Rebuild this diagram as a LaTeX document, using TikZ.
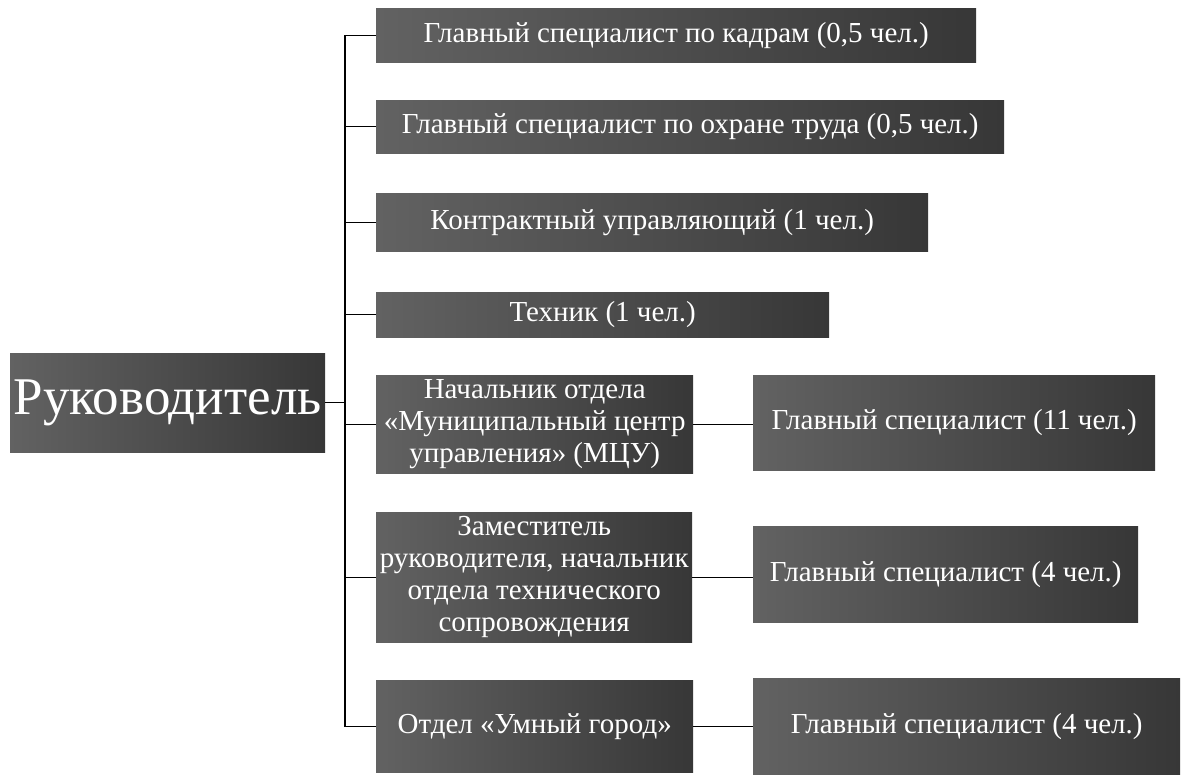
\documentclass[tikz,border=0pt]{standalone}
\usepackage{fontspec}
\setmainfont{Liberation Serif}
\definecolor{boxL}{RGB}{98,98,98}
\definecolor{boxR}{RGB}{55,55,55}
\tikzset{
  box/.style={rectangle, anchor=north west, inner sep=0pt, left color=boxL, right color=boxR,
    text=white, align=center, font=\fontsize{29}{32}\selectfont},
  conn/.style={draw=black, line width=1.4pt}
}
\begin{document}
\begin{tikzpicture}[x=1pt,y=-1pt]
\useasboundingbox (0,0) rectangle (1185,774);
\node[box, minimum width=315pt, minimum height=99pt, font=\fontsize{53}{60}\selectfont] (root) at (10,353) {Руководитель};
\node[box, minimum width=600pt, minimum height=54pt] (n1) at (376,8) {Главный специалист по кадрам (0,5 чел.)};
\node[box, minimum width=628pt, minimum height=53pt] (n2) at (376,100) {Главный специалист по охране труда (0,5 чел.)};
\node[box, minimum width=552pt, minimum height=58pt] (n3) at (376,193) {Контрактный управляющий (1 чел.)};
\node[box, minimum width=453pt, minimum height=45pt] (n4) at (376,292) {Техник (1 чел.)};
\node[box, minimum width=317pt, minimum height=98pt] (n5) at (376,375) {Начальник отдела\\«Муниципальный центр\\управления» (МЦУ)};
\node[box, minimum width=316pt, minimum height=130pt] (n6) at (376,512) {Заместитель\\руководителя, начальник\\отдела технического\\сопровождения};
\node[box, minimum width=317pt, minimum height=92pt] (n7) at (376,680) {Отдел «Умный город»};
\node[box, minimum width=402pt, minimum height=95pt] (r5) at (753,375) {Главный специалист (11 чел.)};
\node[box, minimum width=385pt, minimum height=96pt] (r6) at (753,526) {Главный специалист (4 чел.)};
\node[box, minimum width=427pt, minimum height=96pt] (r7) at (753,678) {Главный специалист (4 чел.)};
\coordinate (tk) at (345,0);
\draw[conn] (n1.west) -- (n1.west -| tk) -- (n7.west -| tk) -- (n7.west);
\foreach \n in {n2,n3,n4,n5,n6} \draw[conn] (\n.west) -- (\n.west -| tk);
\draw[conn] (root.east) -- (root.east -| tk);
\draw[conn] (n5.east) -- (n5.east -| r5.west);
\draw[conn] (n6.east) -- (n6.east -| r6.west);
\draw[conn] (n7.east) -- (n7.east -| r7.west);
\end{tikzpicture}
\end{document}
